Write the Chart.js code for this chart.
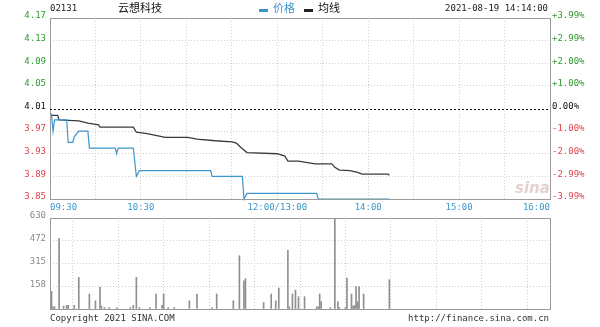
<!DOCTYPE html>
<html>
<head>
<meta charset="utf-8">
<script src="https://cdn.jsdelivr.net/npm/chart.js@4/dist/chart.umd.min.js"></script>
<style>
  html, body { margin: 0; padding: 0; background: #fff; }
  #wrap { position: relative; width: 600px; height: 327px; overflow: hidden; }
  canvas { position: absolute; left: 0; }
  .t { position: absolute; white-space: nowrap; line-height: 12px; }
  .mono { font-family: 'DejaVu Sans Mono', monospace; font-size: 9px; color: #222; }
  .cjk { font-family: 'Noto Sans CJK SC', sans-serif; font-size: 11px; }
  .bar { position: absolute; height: 3px; width: 9px; }
</style>
</head>
<body>
<div id="wrap">
  <canvas id="chart-price" width="600" height="215" style="top:0"></canvas>
  <canvas id="chart-volume" width="600" height="122" style="top:205px"></canvas>

  <div class="t mono" style="left:50px;top:2px">02131</div>
  <div class="t cjk" style="left:118px;top:1px;color:#111">云想科技</div>
  <div class="bar" style="left:259px;top:9px;background:#3c96cc"></div>
  <div class="t cjk" style="left:273px;top:1px;color:#3c96cc">价格</div>
  <div class="bar" style="left:304px;top:9px;background:#222"></div>
  <div class="t cjk" style="left:318px;top:1px;color:#111">均线</div>
  <div class="t mono" style="right:52px;top:2px">2021-08-19 14:14:00</div>

  <div class="t" style="left:515px;top:179px;font:italic bold 15px 'DejaVu Sans',sans-serif;color:#e6d0d0">sina</div>

  <div class="t mono" style="left:50px;top:312px;color:#333">Copyright 2021 SINA.COM</div>
  <div class="t mono" style="right:51px;top:312px;color:#333">http://finance.sina.com.cn</div>
</div>

<script>
// ---- data ----
const prevClose = 4.01;
const priceTicks = [3.85, 3.89, 3.93, 3.97, 4.01, 4.05, 4.09, 4.13, 4.17];
const priceTickLabels = ['3.85', '3.89', '3.93', '3.97', '4.01', '4.05', '4.09', '4.13', '4.17'];
const pctLabels = ['-3.99%', '-2.99%', '-2.00%', '-1.00%', '0.00%', '+1.00%', '+2.00%', '+2.99%', '+3.99%'];

// minutes from 09:30, lunch break skipped (0..330)
const timeTicks = [0, 60, 150, 210, 270, 330];
const timeLabels = ['09:30', '10:30', '12:00/13:00', '14:00', '15:00', '16:00'];

const priceMin = [0, 1, 2, 3, 11, 12, 15, 16, 19, 25, 26, 43, 44, 45, 55, 57, 59, 106, 107, 127, 128, 130, 176, 177, 224];
const priceVal = [4.00, 4.00, 3.97, 3.99, 3.99, 3.95, 3.95, 3.96, 3.97, 3.97, 3.94, 3.94, 3.93, 3.94, 3.94, 3.89, 3.90, 3.90, 3.89, 3.89, 3.85, 3.86, 3.86, 3.85, 3.85];

const avgMin = [0, 5, 6, 19, 25, 32, 33, 55, 57, 63, 69, 76, 91, 97, 109, 120, 123, 126, 130, 150, 155, 157, 164, 175, 186, 188, 191, 198, 203, 206, 223, 224];
const avgVal = [3.998, 3.998, 3.990, 3.988, 3.984, 3.981, 3.977, 3.977, 3.968, 3.966, 3.963, 3.959, 3.959, 3.956, 3.953, 3.951, 3.949, 3.941, 3.932, 3.930, 3.926, 3.917, 3.917, 3.912, 3.912, 3.906, 3.901, 3.900, 3.897, 3.894, 3.894, 3.892];

const volTicks = [0, 158, 315, 472, 630];
const volMin = [1, 2, 3, 6, 9, 11, 12, 16, 19, 26, 30, 33, 34, 36, 39, 44, 53, 55, 57, 59, 66, 70, 74, 75, 78, 82, 92, 97, 107, 110, 121, 125, 128, 129, 141, 146, 149, 151, 157, 158, 160, 162, 164, 168, 176, 177, 178, 179, 185, 188, 190, 191, 195, 196, 199, 200, 201, 202, 203, 204, 207, 224];
const volVal = [122, 15, 15, 490, 20, 25, 25, 25, 219, 104, 57, 150, 20, 10, 10, 10, 10, 25, 219, 10, 10, 104, 25, 104, 10, 10, 57, 104, 10, 104, 57, 369, 195, 210, 45, 104, 57, 145, 406, 15, 104, 131, 85, 85, 15, 15, 104, 50, 10, 630, 50, 10, 10, 214, 104, 20, 25, 156, 50, 156, 104, 203];

// ---- styles ----
const GREEN = '#2f9a2f';
const RED = '#e0434a';
const BLUE = '#3c96cc';
const GRID = '#cfcfcf';
const FRAME = '#9a9a9a';

Chart.defaults.font.family = "'DejaVu Sans Mono', monospace";
Chart.defaults.font.size = 9;
Chart.defaults.animation = false;

const tickColor = (v) => v > prevClose + 1e-6 ? GREEN : (v < prevClose - 1e-6 ? RED : '#111');

// frame around the plot area, and the dashed previous-close line
const framePlugin = {
  id: 'frame',
  afterDraw(chart) {
    const { ctx, chartArea: a } = chart;
    ctx.save();
    ctx.strokeStyle = FRAME;
    ctx.lineWidth = 1;
    ctx.strokeRect(Math.round(a.left) + 0.5, Math.round(a.top) + 0.5,
      Math.round(a.right - a.left), Math.round(a.bottom - a.top));
    if (chart.options.plugins.frame && chart.options.plugins.frame.prevClose) {
      const y = Math.round(chart.scales.y.getPixelForValue(prevClose)) + 0.5;
      ctx.strokeStyle = '#111';
      ctx.setLineDash([2, 2]);
      ctx.beginPath();
      ctx.moveTo(a.left, y);
      ctx.lineTo(a.right, y);
      ctx.stroke();
    }
    ctx.restore();
  }
};

const xGrid = {
  type: 'linear',
  min: 0,
  max: 330,
  afterBuildTicks: (s) => {
    const t = [];
    for (let m = 0; m <= 330; m += 30) t.push({ value: m });
    s.ticks = t;
  },
  grid: { color: GRID, drawTicks: false },
  border: { display: false, dash: [1, 2] }
};

new Chart(document.getElementById('chart-price'), {
  type: 'line',
  data: {
    datasets: [
      {
        label: '价格',
        data: priceMin.map((m, i) => ({ x: m, y: priceVal[i] })),
        borderColor: BLUE,
        borderWidth: 1.2,
        pointRadius: 0,
        clip: false,
        yAxisID: 'y'
      },
      {
        label: '均线',
        data: avgMin.map((m, i) => ({ x: m, y: avgVal[i] })),
        borderColor: '#3a3a3a',
        borderWidth: 1.3,
        pointRadius: 0,
        clip: false,
        yAxisID: 'y'
      }
    ]
  },
  options: {
    responsive: false,
    layout: { padding: { top: 18, left: 0, right: 0, bottom: 0 } },
    plugins: { legend: { display: false }, tooltip: { enabled: false }, frame: { prevClose: true } },
    scales: {
      x: {
        ...xGrid,
        afterFit: (s) => { s.height = 16; },
        ticks: {
          autoSkip: false,
          maxRotation: 0,
          align: 'inner',
          padding: 3,
          color: BLUE,
          callback: (v) => {
            const i = timeTicks.indexOf(v);
            return i >= 0 ? timeLabels[i] : '';
          }
        }
      },
      y: {
        position: 'left',
        min: 3.85,
        max: 4.17,
        afterBuildTicks: (s) => { s.ticks = priceTicks.map(v => ({ value: v })); },
        afterFit: (s) => { s.width = 50; },
        grid: {
          drawTicks: false,
          color: (c) => Math.abs(c.tick.value - prevClose) < 1e-6 ? 'rgba(0,0,0,0)' : GRID
        },
        border: { display: false, dash: [1, 2] },
        ticks: {
          padding: 4,
          labelOffset: -2,
          color: (c) => tickColor(c.tick.value),
          callback: (v, i) => priceTickLabels[i]
        }
      },
      y2: {
        position: 'right',
        min: 3.85,
        max: 4.17,
        afterBuildTicks: (s) => { s.ticks = priceTicks.map(v => ({ value: v })); },
        afterFit: (s) => { s.width = 50; },
        grid: { display: false, drawTicks: false },
        border: { display: false },
        ticks: {
          padding: 2,
          labelOffset: -2,
          color: (c) => tickColor(c.tick.value),
          callback: (v, i) => pctLabels[i]
        }
      }
    }
  },
  plugins: [framePlugin]
});

new Chart(document.getElementById('chart-volume'), {
  type: 'bar',
  data: {
    datasets: [{
      label: 'volume',
      data: volMin.map((m, i) => ({ x: m, y: volVal[i] })),
      backgroundColor: '#8f8f8f',
      barThickness: 1,
      grouped: false
    }]
  },
  options: {
    responsive: false,
    layout: { padding: { top: 13, left: 0, right: 50, bottom: 0 } },
    plugins: { legend: { display: false }, tooltip: { enabled: false } },
    scales: {
      x: {
        ...xGrid,
        offset: false,
        afterFit: (s) => { s.height = 18; },
        ticks: { display: false }
      },
      y: {
        min: 0,
        max: 630,
        afterBuildTicks: (s) => { s.ticks = volTicks.map(v => ({ value: v })); },
        afterFit: (s) => { s.width = 50; },
        grid: { color: GRID, drawTicks: false },
        border: { display: false, dash: [1, 2] },
        ticks: {
          padding: 4,
          labelOffset: -2,
          color: '#8a8a8a',
          callback: (v) => v === 0 ? '' : String(v)
        }
      }
    }
  },
  plugins: [framePlugin]
});
</script>
</body>
</html>
